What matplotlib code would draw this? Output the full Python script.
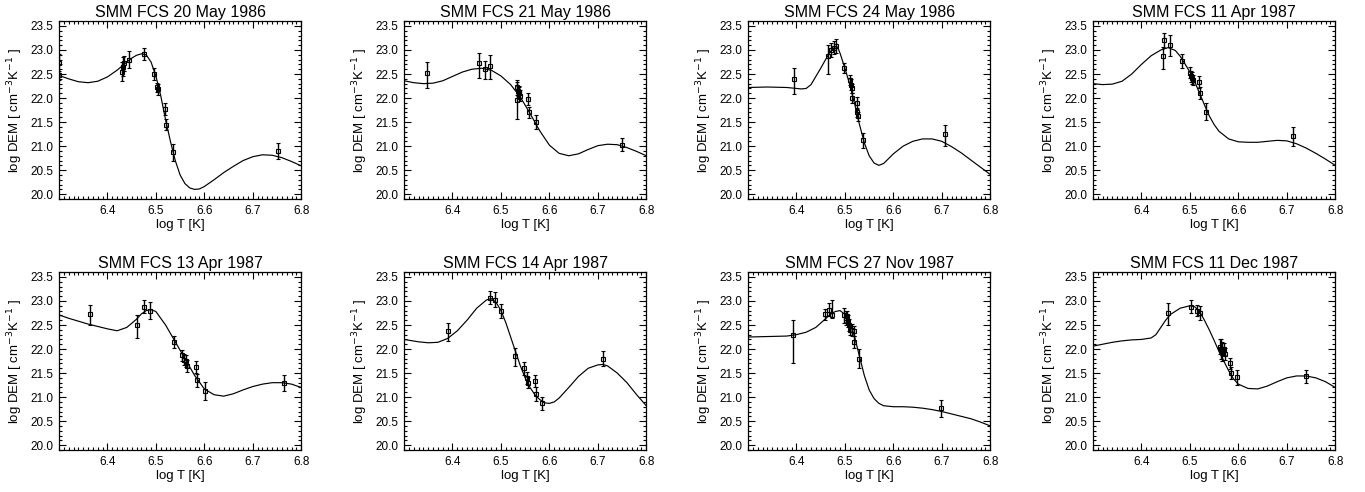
import numpy as np
import matplotlib.pyplot as plt
from matplotlib.ticker import MultipleLocator, FormatStrFormatter

plt.rcParams['font.family'] = ['Liberation Sans', 'DejaVu Sans']

titles = ["SMM FCS 20 May 1986", "SMM FCS 21 May 1986", "SMM FCS 24 May 1986", "SMM FCS 11 Apr 1987",
          "SMM FCS 13 Apr 1987", "SMM FCS 14 Apr 1987", "SMM FCS 27 Nov 1987", "SMM FCS 11 Dec 1987"]

# fitted DEM curves (log T, log DEM)
fit_T1 = [6.30, 6.32, 6.34, 6.36, 6.38, 6.40, 6.42, 6.44, 6.45, 6.46, 6.47, 6.48, 6.49, 6.50, 6.51, 6.52, 6.53, 6.54,
          6.55, 6.56, 6.57, 6.58, 6.59, 6.60, 6.62, 6.64, 6.66, 6.68, 6.70, 6.72, 6.74, 6.76, 6.78, 6.80]
fit_D1 = [22.47, 22.40, 22.34, 22.32, 22.35, 22.44, 22.58, 22.75, 22.83, 22.89, 22.92, 22.90, 22.75, 22.46, 22.05, 21.55,
          21.10, 20.70, 20.40, 20.22, 20.13, 20.10, 20.11, 20.16, 20.30, 20.45, 20.58, 20.70, 20.78, 20.82, 20.81, 20.76,
          20.68, 20.59]
fit_T2 = [6.30, 6.32, 6.34, 6.36, 6.38, 6.40, 6.42, 6.44, 6.46, 6.48, 6.50, 6.52, 6.54, 6.56, 6.58, 6.60, 6.62, 6.64,
          6.66, 6.68, 6.70, 6.72, 6.74, 6.76, 6.78, 6.80]
fit_D2 = [22.36, 22.32, 22.30, 22.31, 22.36, 22.45, 22.54, 22.60, 22.62, 22.58, 22.46, 22.28, 22.02, 21.68, 21.32, 21.02,
          20.85, 20.80, 20.84, 20.93, 21.01, 21.04, 21.03, 20.97, 20.89, 20.80]
fit_T3 = [6.30, 6.34, 6.38, 6.40, 6.41, 6.42, 6.43, 6.44, 6.45, 6.46, 6.47, 6.48, 6.485, 6.49, 6.50, 6.51, 6.52, 6.53,
          6.54, 6.55, 6.56, 6.57, 6.58, 6.60, 6.62, 6.64, 6.66, 6.68, 6.70, 6.72, 6.74, 6.76, 6.78, 6.80]
fit_D3 = [22.22, 22.23, 22.22, 22.20, 22.19, 22.20, 22.28, 22.45, 22.62, 22.80, 22.97, 23.07, 23.06, 22.93, 22.62, 22.28,
          21.88, 21.45, 21.07, 20.80, 20.65, 20.60, 20.64, 20.84, 21.00, 21.10, 21.15, 21.15, 21.10, 20.99, 20.86, 20.71,
          20.56, 20.41]
fit_T4 = [6.30, 6.32, 6.34, 6.36, 6.38, 6.40, 6.42, 6.44, 6.455, 6.47, 6.48, 6.49, 6.50, 6.51, 6.52, 6.53, 6.54, 6.55,
          6.56, 6.58, 6.60, 6.62, 6.64, 6.66, 6.68, 6.70, 6.72, 6.74, 6.76, 6.78, 6.80]
fit_D4 = [22.30, 22.28, 22.29, 22.35, 22.50, 22.70, 22.88, 23.00, 23.05, 22.99, 22.87, 22.71, 22.54, 22.34, 22.10, 21.86,
          21.63, 21.45, 21.31, 21.15, 21.09, 21.08, 21.08, 21.10, 21.12, 21.11, 21.05, 20.96, 20.85, 20.73, 20.60]
fit_T5 = [6.30, 6.32, 6.34, 6.36, 6.38, 6.40, 6.42, 6.44, 6.46, 6.47, 6.48, 6.49, 6.50, 6.52, 6.54, 6.56, 6.58, 6.60,
          6.62, 6.64, 6.66, 6.68, 6.70, 6.72, 6.74, 6.76, 6.78, 6.80]
fit_D5 = [22.71, 22.64, 22.58, 22.52, 22.47, 22.42, 22.38, 22.45, 22.62, 22.73, 22.80, 22.82, 22.78, 22.50, 22.15, 21.80,
          21.45, 21.17, 21.05, 21.02, 21.07, 21.15, 21.22, 21.27, 21.30, 21.30, 21.27, 21.20]
fit_T6 = [6.30, 6.33, 6.35, 6.37, 6.39, 6.41, 6.43, 6.45, 6.47, 6.48, 6.49, 6.50, 6.51, 6.52, 6.53, 6.54, 6.55, 6.56,
          6.57, 6.58, 6.59, 6.60, 6.61, 6.62, 6.64, 6.66, 6.68, 6.70, 6.71, 6.72, 6.74, 6.76, 6.78, 6.80]
fit_D6 = [22.20, 22.15, 22.13, 22.14, 22.22, 22.38, 22.60, 22.85, 23.02, 23.05, 22.97, 22.80, 22.55, 22.25, 21.95, 21.65,
          21.40, 21.20, 21.05, 20.95, 20.88, 20.87, 20.90, 20.98, 21.20, 21.43, 21.60, 21.67, 21.68, 21.65, 21.50, 21.30,
          21.05, 20.82]
fit_T7 = [6.30, 6.34, 6.38, 6.40, 6.42, 6.44, 6.46, 6.47, 6.48, 6.49, 6.50, 6.51, 6.52, 6.53, 6.54, 6.55, 6.56, 6.57,
          6.58, 6.60, 6.62, 6.64, 6.66, 6.68, 6.70, 6.72, 6.74, 6.76, 6.78, 6.80]
fit_D7 = [22.25, 22.26, 22.27, 22.30, 22.35, 22.45, 22.63, 22.72, 22.78, 22.80, 22.72, 22.55, 22.25, 21.85, 21.45, 21.15,
          20.97, 20.87, 20.82, 20.80, 20.80, 20.79, 20.77, 20.74, 20.70, 20.65, 20.60, 20.55, 20.48, 20.40]
fit_T8 = [6.30, 6.32, 6.34, 6.36, 6.38, 6.40, 6.42, 6.43, 6.44, 6.45, 6.46, 6.48, 6.50, 6.51, 6.52, 6.53, 6.54, 6.55,
          6.56, 6.57, 6.58, 6.59, 6.60, 6.62, 6.64, 6.66, 6.68, 6.70, 6.72, 6.74, 6.76, 6.78, 6.80]
fit_D8 = [22.06, 22.10, 22.14, 22.17, 22.19, 22.20, 22.23, 22.30, 22.45, 22.60, 22.72, 22.85, 22.90, 22.88, 22.78, 22.60,
          22.40, 22.18, 21.95, 21.75, 21.55, 21.38, 21.27, 21.18, 21.17, 21.23, 21.32, 21.40, 21.44, 21.44, 21.40, 21.32,
          21.20]

# measured points: log T, log DEM, error (lower, upper)
obs_T1 = [6.301, 6.301, 6.430, 6.432, 6.435, 6.445, 6.475, 6.497, 6.503, 6.505, 6.518, 6.520, 6.535, 6.753]
obs_D1 = [22.72, 22.47, 22.55, 22.65, 22.72, 22.80, 22.92, 22.50, 22.22, 22.18, 21.77, 21.45, 20.87, 20.90]
obs_lo1 = [0.20, 0.10, 0.20, 0.20, 0.15, 0.17, 0.13, 0.13, 0.10, 0.12, 0.13, 0.12, 0.17, 0.17]
obs_hi1 = [0.20, 0.10, 0.20, 0.20, 0.15, 0.17, 0.13, 0.13, 0.10, 0.12, 0.13, 0.12, 0.17, 0.17]

obs_T2 = [6.348, 6.455, 6.468, 6.478, 6.533, 6.535, 6.537, 6.538, 6.540, 6.533, 6.555, 6.557, 6.573, 6.750]
obs_D2 = [22.53, 22.72, 22.60, 22.67, 22.22, 22.15, 22.13, 22.10, 22.05, 21.95, 21.98, 21.70, 21.50, 21.03]
obs_lo2 = [0.32, 0.30, 0.20, 0.28, 0.15, 0.10, 0.12, 0.12, 0.12, 0.38, 0.13, 0.12, 0.15, 0.14]
obs_hi2 = [0.22, 0.22, 0.17, 0.22, 0.15, 0.10, 0.12, 0.12, 0.12, 0.38, 0.13, 0.12, 0.15, 0.14]

obs_T3 = [6.395, 6.465, 6.472, 6.477, 6.482, 6.498, 6.510, 6.512, 6.515, 6.515, 6.525, 6.525, 6.527, 6.538, 6.706]
obs_D3 = [22.40, 22.87, 23.00, 23.05, 23.08, 22.62, 22.38, 22.28, 22.20, 22.00, 21.90, 21.70, 21.62, 21.12, 21.25]
obs_lo3 = [0.32, 0.37, 0.15, 0.13, 0.15, 0.10, 0.10, 0.12, 0.10, 0.10, 0.12, 0.10, 0.10, 0.15, 0.25]
obs_hi3 = [0.22, 0.23, 0.15, 0.13, 0.15, 0.10, 0.10, 0.12, 0.10, 0.10, 0.12, 0.10, 0.10, 0.15, 0.18]

obs_T4 = [6.445, 6.447, 6.458, 6.483, 6.500, 6.503, 6.505, 6.507, 6.518, 6.520, 6.533, 6.713]
obs_D4 = [22.87, 23.20, 23.10, 22.77, 22.53, 22.45, 22.42, 22.38, 22.33, 22.10, 21.72, 21.22]
obs_lo4 = [0.27, 0.15, 0.22, 0.15, 0.12, 0.12, 0.12, 0.10, 0.12, 0.12, 0.17, 0.22]
obs_hi4 = [0.20, 0.15, 0.22, 0.15, 0.12, 0.12, 0.12, 0.10, 0.12, 0.12, 0.17, 0.18]

obs_T5 = [6.365, 6.460, 6.475, 6.488, 6.537, 6.553, 6.558, 6.562, 6.565, 6.583, 6.585, 6.602, 6.765]
obs_D5 = [22.72, 22.50, 22.88, 22.80, 22.15, 21.87, 21.78, 21.75, 21.65, 21.63, 21.35, 21.13, 21.30]
obs_lo5 = [0.22, 0.28, 0.13, 0.17, 0.13, 0.12, 0.12, 0.12, 0.12, 0.12, 0.13, 0.20, 0.18]
obs_hi5 = [0.20, 0.20, 0.13, 0.17, 0.13, 0.12, 0.12, 0.12, 0.12, 0.12, 0.13, 0.18, 0.17]

obs_T6 = [6.390, 6.477, 6.488, 6.500, 6.530, 6.548, 6.553, 6.555, 6.570, 6.572, 6.585, 6.710]
obs_D6 = [22.37, 23.07, 23.03, 22.80, 21.85, 21.60, 21.40, 21.30, 21.33, 21.07, 20.87, 21.80]
obs_lo6 = [0.20, 0.13, 0.15, 0.15, 0.20, 0.13, 0.13, 0.12, 0.13, 0.15, 0.13, 0.15]
obs_hi6 = [0.18, 0.13, 0.15, 0.13, 0.18, 0.13, 0.13, 0.12, 0.13, 0.15, 0.13, 0.15]

obs_T7 = [6.393, 6.458, 6.467, 6.473, 6.498, 6.503, 6.505, 6.507, 6.508, 6.510, 6.515, 6.518, 6.518, 6.530, 6.698]
obs_D7 = [22.30, 22.72, 22.82, 22.70, 22.70, 22.65, 22.68, 22.58, 22.50, 22.40, 22.40, 22.38, 22.15, 21.80, 20.77]
obs_lo7 = [0.60, 0.12, 0.13, 0.05, 0.15, 0.15, 0.12, 0.12, 0.12, 0.10, 0.12, 0.10, 0.12, 0.20, 0.18]
obs_hi7 = [0.30, 0.12, 0.13, 0.33, 0.15, 0.15, 0.12, 0.12, 0.12, 0.10, 0.12, 0.10, 0.12, 0.20, 0.17]

obs_T8 = [6.455, 6.503, 6.515, 6.520, 6.563, 6.565, 6.567, 6.570, 6.572, 6.583, 6.585, 6.598, 6.740]
obs_D8 = [22.75, 22.88, 22.80, 22.75, 22.05, 22.00, 21.95, 22.00, 21.90, 21.70, 21.50, 21.42, 21.43]
obs_lo8 = [0.25, 0.13, 0.12, 0.15, 0.15, 0.20, 0.20, 0.12, 0.13, 0.12, 0.13, 0.17, 0.14]
obs_hi8 = [0.20, 0.13, 0.12, 0.15, 0.15, 0.20, 0.20, 0.12, 0.13, 0.12, 0.13, 0.15, 0.14]

fits = [(fit_T1, fit_D1), (fit_T2, fit_D2), (fit_T3, fit_D3), (fit_T4, fit_D4),
        (fit_T5, fit_D5), (fit_T6, fit_D6), (fit_T7, fit_D7), (fit_T8, fit_D8)]
obs = [(obs_T1, obs_D1, obs_lo1, obs_hi1), (obs_T2, obs_D2, obs_lo2, obs_hi2),
       (obs_T3, obs_D3, obs_lo3, obs_hi3), (obs_T4, obs_D4, obs_lo4, obs_hi4),
       (obs_T5, obs_D5, obs_lo5, obs_hi5), (obs_T6, obs_D6, obs_lo6, obs_hi6),
       (obs_T7, obs_D7, obs_lo7, obs_hi7), (obs_T8, obs_D8, obs_lo8, obs_hi8)]

fig = plt.figure(figsize=(13.65, 4.92), dpi=100)

lefts = [0.0432, 0.2960, 0.5480, 0.8007]
bottoms = [0.5955, 0.0854]
w, h = 0.1775, 0.3615

for i in range(8):
    row, col = divmod(i, 4)
    ax = fig.add_axes([lefts[col], bottoms[row], w, h])
    T, D = fits[i]
    ax.plot(T, D, color='k', lw=0.85, solid_joinstyle='round')
    oT, oD, lo, hi = obs[i]
    ax.errorbar(oT, oD, yerr=[lo, hi], fmt='s', ms=3.5, mfc='none', mec='k', mew=0.8,
                ecolor='k', elinewidth=1.0, capsize=1.2, capthick=1.0)

    ax.set_xlim(6.3, 6.8)
    ax.set_ylim(19.9, 23.6)
    ax.set_xticks([6.4, 6.5, 6.6, 6.7, 6.8])
    ax.set_yticks(np.arange(20.0, 23.51, 0.5))
    ax.xaxis.set_minor_locator(MultipleLocator(0.01))
    ax.yaxis.set_minor_locator(MultipleLocator(0.1))
    ax.xaxis.set_major_formatter(FormatStrFormatter('%.1f'))
    ax.yaxis.set_major_formatter(FormatStrFormatter('%.1f'))
    ax.tick_params(which='both', direction='in', top=True, right=True, labelsize=8.5, width=0.8)
    ax.tick_params(which='major', length=5, pad=4)
    ax.tick_params(which='minor', length=2.5)
    for s in ax.spines.values():
        s.set_linewidth(0.9)

    ax.set_title(titles[i], fontsize=11.5, pad=3)
    ax.set_xlabel("log T [K]", fontsize=9.5, labelpad=2)
    ax.set_ylabel(r"log DEM [ cm$^{-3}$K$^{-1}$ ]", fontsize=9.5, labelpad=4)

plt.savefig("out.png", dpi=100)
